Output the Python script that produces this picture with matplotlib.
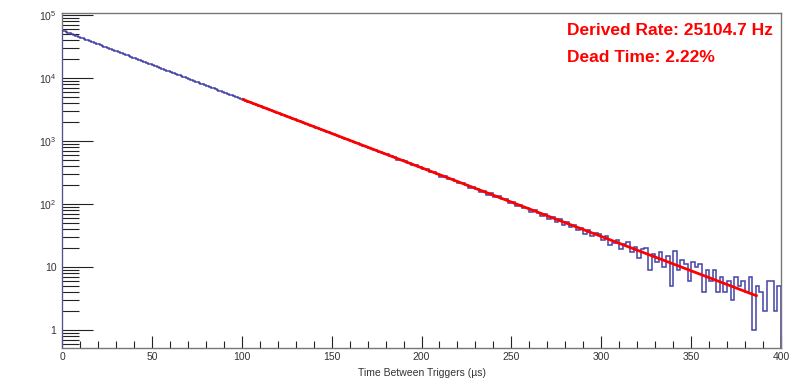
import numpy as np
import matplotlib
matplotlib.use("Agg")
from matplotlib import pyplot as plt
from matplotlib.ticker import FixedLocator, FixedFormatter, MultipleLocator

## 字体: 用 Liberation Sans 代替 ROOT 的 Helvetica
plt.rcParams['font.family'] = ['Liberation Sans', 'DejaVu Sans']
plt.rcParams['mathtext.fontset'] = 'custom'
plt.rcParams['mathtext.rm'] = 'Liberation Sans'

## 直方图分格: 0-180 us 每格 1 us, 180-400 us 每格 2 us
bin_edges = np.concatenate([np.arange(0, 180, 1), np.arange(180, 402, 2)])

## 0-180 us (平滑部分)
counts_fine = [
    56302, 54906, 53544, 52215, 50920, 49658, 48425, 47224, 46052, 44910,
    43795, 42710, 41649, 40617, 39609, 38626, 37668, 36733, 35822, 34933,
    34067, 33222, 32397, 31593, 30810, 30046, 29300, 28573, 27864, 27173,
    26499, 25842, 25200, 24575, 23966, 23371, 22791, 22226, 21674, 21136,
    20612, 20101, 19602, 19116, 18641, 18179, 17728, 17288, 16859, 16441,
    16034, 15636, 15248, 14870, 14501, 14141, 13790, 13448, 13114, 12789,
    12471, 12162, 11861, 11567, 11280, 11000, 10727, 10461, 10201, 9948,
    9701, 9460, 9226, 8997, 8773, 8556, 8344, 8137, 7935, 7738,
    7546, 7359, 7176, 6998, 6825, 6656, 6491, 6330, 6173, 6020,
    5870, 5725, 5583, 5444, 5309, 5177, 5049, 4924, 4802, 4683,
    4566, 4453, 4342, 4234, 4129, 4027, 3928, 3831, 3736, 3643,
    3552, 3464, 3378, 3294, 3213, 3133, 3055, 2979, 2905, 2833,
    2763, 2695, 2628, 2563, 2499, 2437, 2377, 2318, 2260, 2204,
    2150, 2097, 2044, 1994, 1944, 1896, 1849, 1803, 1758, 1714,
    1672, 1630, 1590, 1550, 1512, 1474, 1438, 1402, 1368, 1334,
    1301, 1269, 1237, 1207, 1177, 1147, 1119, 1091, 1064, 1038,
    1012, 987, 962, 938, 915, 893, 870, 848, 827, 807,
    787, 767, 748, 730, 712, 694, 677, 661, 644, 628,
]

## 180-400 us (有涨落的部分)
counts_coarse = [
    612, 570, 560, 508, 498, 482, 440, 418, 412, 392,
    360, 355, 318, 322, 296, 270, 282, 247, 251, 236,
    212, 219, 204, 180, 186, 176, 155, 161, 140, 147,
    129, 133, 118, 122, 104, 107, 92, 97, 86, 88,
    74, 80, 71, 64, 69, 58, 63, 52, 57, 46,
    51, 43, 47, 38, 42, 34, 39, 31, 35, 33,
    27, 31, 22, 24, 27, 19, 23, 25, 17, 21,
    14, 19, 20, 9, 16, 12, 17, 10, 15, 5,
    18, 9, 13, 11, 6, 12, 10, 11, 4, 9,
    6, 9, 4, 7, 4, 6, 3, 7, 5, 6,
    4, 7, 1, 5, 4, 2, 6, 6, 2, 5,
]
counts = counts_fine + counts_coarse

## 拟合直线 (对数坐标下为直线), 拟合区间 100-387 us
fit_t = [100, 387]
fit_y = [4632, 3.44]

rate_text = "Derived Rate: 25104.7 Hz"
dead_text = "Dead Time: 2.22%"

fig = plt.figure(figsize=(7.95, 3.83), dpi=100)
ax = fig.add_axes([0.078, 0.0914, 0.9044, 0.8746])

ax.stairs(counts, bin_edges, baseline=0.01, color="#4343a6", lw=1.1,
          zorder=3)
ax.plot(fit_t, fit_y, color="#ff0000", lw=2.0, solid_capstyle="butt",
        zorder=4)

ax.set_yscale("log")
ax.set_xlim(0, 400)
ax.set_ylim(0.518, 1.076e5)

## 坐标轴刻度, ROOT 风格: 朝内, 只在左边和下边
ax.xaxis.set_major_locator(MultipleLocator(50))
ax.xaxis.set_minor_locator(MultipleLocator(10))
ax.yaxis.set_major_locator(FixedLocator([1, 10, 100, 1000, 1e4, 1e5]))
ax.yaxis.set_major_formatter(FixedFormatter(
    ["1", "10", "$10^{2}$", "$10^{3}$", "$10^{4}$", "$10^{5}$"]))
ax.yaxis.set_minor_locator(FixedLocator(
    [m * 10.0 ** e for e in range(-1, 5) for m in range(2, 10)]))
ax.yaxis.set_minor_formatter(FixedFormatter([]))

ax.tick_params(axis="both", which="both", direction="in",
               top=False, right=False, colors="#222222",
               labelsize=7.5, labelcolor="#333333")
ax.tick_params(axis="x", which="major", length=9, width=0.8, pad=3)
ax.tick_params(axis="x", which="minor", length=5, width=0.8)
ax.tick_params(axis="y", which="major", length=22, width=0.8, pad=4)
ax.tick_params(axis="y", which="minor", length=12, width=0.8)

for s in ax.spines.values():
    s.set_color("#777777")
    s.set_linewidth(1.0)

ax.set_xlabel("Time Between Triggers (\u00b5s)", fontsize=7.5,
              color="#333333", labelpad=4)

ax.text(0.7024, 0.948, rate_text, transform=ax.transAxes, color="#ff0000",
        fontsize=12.5, fontweight="bold", va="center", ha="left")
ax.text(0.7024, 0.868, dead_text, transform=ax.transAxes, color="#ff0000",
        fontsize=12.5, fontweight="bold", va="center", ha="left")

plt.savefig("out.png", dpi=100)
